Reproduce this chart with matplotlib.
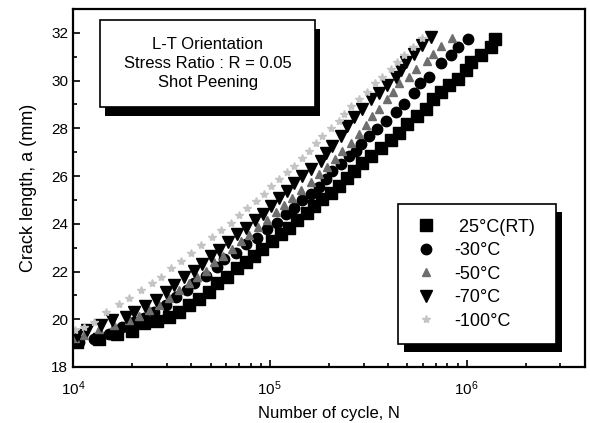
import matplotlib
matplotlib.use("Agg")
import matplotlib.pyplot as plt
from matplotlib.patches import Rectangle
from matplotlib.ticker import LogLocator, MultipleLocator

plt.rcParams["font.family"] = ["Liberation Sans", "DejaVu Sans"]
plt.rcParams["mathtext.fontset"] = "custom"
plt.rcParams["mathtext.rm"] = "Liberation Sans"
plt.rcParams["mathtext.it"] = "Liberation Sans:italic"

# Data: number of cycles N and crack length a (mm)
n_rt = [10470, 13550, 16710, 19910, 22910, 26670, 30690, 34510, 38820, 43650,
        48980, 53830, 60530, 67920, 75510, 82990, 90990, 102300, 113800, 124700,
        137100, 154200, 167100, 183700, 204200, 223900, 246000, 266700, 293100,
        325800, 365600, 411100, 451900, 495500, 557200, 619400, 679200, 737900,
        810900, 909900, 988500, 1059000, 1191000, 1324000, 1403000]
a_rt = [19.04, 19.17, 19.38, 19.5, 19.83, 19.92, 20.08, 20.29, 20.58, 20.83,
        21.13, 21.5, 21.75, 22.13, 22.38, 22.67, 22.96, 23.29, 23.58, 23.83,
        24.17, 24.46, 24.75, 25.04, 25.29, 25.58, 25.92, 26.21, 26.54,
        26.83, 27.17, 27.5, 27.79, 28.17, 28.5, 28.83, 29.21, 29.54,
        29.83, 30.08, 30.46, 30.79, 31.08, 31.42, 31.75]

n_30 = [10720, 12790, 15230, 17750, 20410, 22910, 25760, 29650, 33340, 37930,
        41110, 47320, 53830, 58340, 67140, 75510, 85900, 96610, 108600, 120500,
        132400, 145200, 161400, 177400, 192300, 206500, 229100, 251800, 273500,
        289700, 318400, 349100, 388200, 436500, 478600, 538300, 583400, 641200,
        737900, 829800, 909900, 1023000]
a_30 = [19.04, 19.17, 19.38, 19.67, 19.88, 20.04, 20.29, 20.58, 20.92, 21.21,
        21.54, 21.83, 22.17, 22.54, 22.79, 23.17, 23.42, 23.79, 24.04, 24.42,
        24.67, 25.0, 25.25, 25.54, 25.88, 26.21, 26.5, 26.83, 27.04,
        27.33, 27.67, 27.96, 28.29, 28.67, 29.04, 29.46, 29.88, 30.17,
        30.75, 31.08, 31.42, 31.75]

n_50 = [10230, 11370, 13550, 16150, 19230, 21630, 24320, 27350, 30690, 34510,
        38820, 42560, 47320, 52000, 57680, 64120, 71290, 78160, 86900, 96610,
        107200, 117800, 129400, 143600, 161400, 177400, 194500, 213800, 231700,
        257600, 283100, 306900, 329600, 357300, 392600, 420700, 451900, 508200,
        550800, 626600, 679200, 737900, 839500]
a_50 = [19.21, 19.33, 19.58, 19.75, 19.96, 20.13, 20.38, 20.58, 20.88, 21.21,
        21.5, 21.75, 22.04, 22.38, 22.67, 22.96, 23.29, 23.54, 23.88, 24.17,
        24.5, 24.79, 25.08, 25.42, 25.75, 26.08, 26.38, 26.71, 27.04,
        27.38, 27.75, 28.13, 28.5, 28.83, 29.21, 29.54, 29.88, 30.17,
        30.5, 30.83, 31.13, 31.46, 31.79]

n_70 = [10470, 11780, 13870, 15780, 18580, 20410, 23180, 26360, 29650, 32580,
        36560, 41110, 45190, 50230, 55080, 61240, 67920, 75510, 83950, 92040,
        101200, 111200, 121900, 132400, 145200, 161400, 181600, 192300, 206500,
        229100, 246000, 266700, 293100, 325800, 357300, 392600, 436500, 462400,
        489800, 538300, 591600, 656100]
a_70 = [19.33, 19.54, 19.75, 19.96, 20.08, 20.29, 20.54, 20.79, 21.13, 21.42,
        21.75, 22.04, 22.33, 22.63, 22.92, 23.25, 23.58, 23.83, 24.17, 24.42,
        24.75, 25.08, 25.38, 25.71, 26.0, 26.29, 26.63, 26.96, 27.25,
        27.67, 28.08, 28.46, 28.83, 29.21, 29.5, 29.83, 30.17, 30.46,
        30.79, 31.13, 31.5, 31.83]

n_100 = [10230, 11370, 12790, 14720, 17140, 19230, 22130, 25180, 27990, 31410,
         35320, 39720, 44670, 50820, 56360, 63390, 69660, 76380, 84920, 93330,
         101200, 111200, 121900, 132400, 145200, 157800, 171400, 183700, 204200,
         223900, 237700, 257600, 283100, 310500, 341200, 370700, 411100, 441600,
         478600, 532100, 591600]
a_100 = [19.54, 19.67, 19.88, 20.29, 20.63, 20.88, 21.21, 21.5, 21.79, 22.13,
         22.46, 22.79, 23.13, 23.46, 23.75, 24.04, 24.38, 24.67, 24.96, 25.25,
         25.58, 25.88, 26.17, 26.42, 26.75, 27.04, 27.38, 27.67, 28.0,
         28.29, 28.58, 28.92, 29.25, 29.54, 29.88, 30.17, 30.5, 30.79,
         31.08, 31.42, 31.79]

labels = [" 25°C(RT)", "-30°C", "-50°C", "-70°C", "-100°C"]
info_lines = ["L-T Orientation", "Stress Ratio : R = 0.05", "Shot Peening"]

fig = plt.figure(figsize=(5.9, 4.23), dpi=100)
ax = fig.add_axes([0.1237, 0.1324, 0.8678, 0.8463])

ax.plot(n_rt, a_rt, ls="none", marker="s", ms=8.5, color="black", label=labels[0])
ax.plot(n_30, a_30, ls="none", marker="o", ms=7.5, color="black", label=labels[1])
ax.plot(n_50, a_50, ls="none", marker="^", ms=6, color="#6e6e6e", label=labels[2])
ax.plot(n_70, a_70, ls="none", marker="v", ms=8, color="black", label=labels[3])
ax.plot(n_100, a_100, ls="none", marker="*", ms=6, color="#c4c4c4", label=labels[4])

ax.set_xscale("log")
ax.set_xlim(1e4, 4e6)
ax.set_ylim(18, 33)
ax.yaxis.set_major_locator(MultipleLocator(2))
ax.yaxis.set_minor_locator(MultipleLocator(1))
ax.xaxis.set_major_locator(LogLocator(base=10))
ax.xaxis.set_minor_locator(LogLocator(base=10, subs=range(2, 10)))

ax.tick_params(which="both", direction="in", top=False, right=False, labelsize=11, width=1.2)
ax.tick_params(which="major", length=5)
ax.tick_params(which="minor", length=3)
ax.tick_params(axis="x", which="major", pad=9)
for sp in ax.spines.values():
    sp.set_linewidth(1.6)

ax.set_xlabel("Number of cycle, N", fontsize=12, labelpad=6)
ax.set_ylabel("Crack length, a (mm)", fontsize=13, labelpad=10)

# info box with a black drop shadow
ax.add_patch(Rectangle((0.063, 0.701), 0.42, 0.243, transform=ax.transAxes,
                       facecolor="black", edgecolor="none", zorder=6))
ax.add_patch(Rectangle((0.053, 0.726), 0.42, 0.243, transform=ax.transAxes,
                       facecolor="white", edgecolor="black", lw=1.2, zorder=7))
for i, line in enumerate(info_lines):
    ax.text(0.263, 0.90 - i * 0.053, line, transform=ax.transAxes,
            ha="center", va="center", fontsize=12, zorder=8)

leg = ax.legend(loc="upper left", bbox_to_anchor=(0.635, 0.455, 0.308, 0.0),
                mode="expand", fontsize=13, frameon=True, fancybox=False,
                framealpha=1, facecolor="white",
                labelspacing=0.36, borderpad=0.8, handlelength=1.5,
                handletextpad=0.8, borderaxespad=0)
leg.get_frame().set_edgecolor("black")
leg.get_frame().set_linewidth(1.2)
leg.set_zorder(7)

fig.canvas.draw()
bb = leg.get_frame().get_window_extent(fig.canvas.get_renderer())
inv = ax.transAxes.inverted()
(x0, y0), (x1, y1) = inv.transform([(bb.x0 + 6, bb.y0 - 8), (bb.x1 + 6, bb.y1 - 8)])
ax.add_patch(Rectangle((x0, y0), x1 - x0, y1 - y0, transform=ax.transAxes,
                       facecolor="black", edgecolor="none", zorder=6))

fig.savefig("out.png", dpi=100)
